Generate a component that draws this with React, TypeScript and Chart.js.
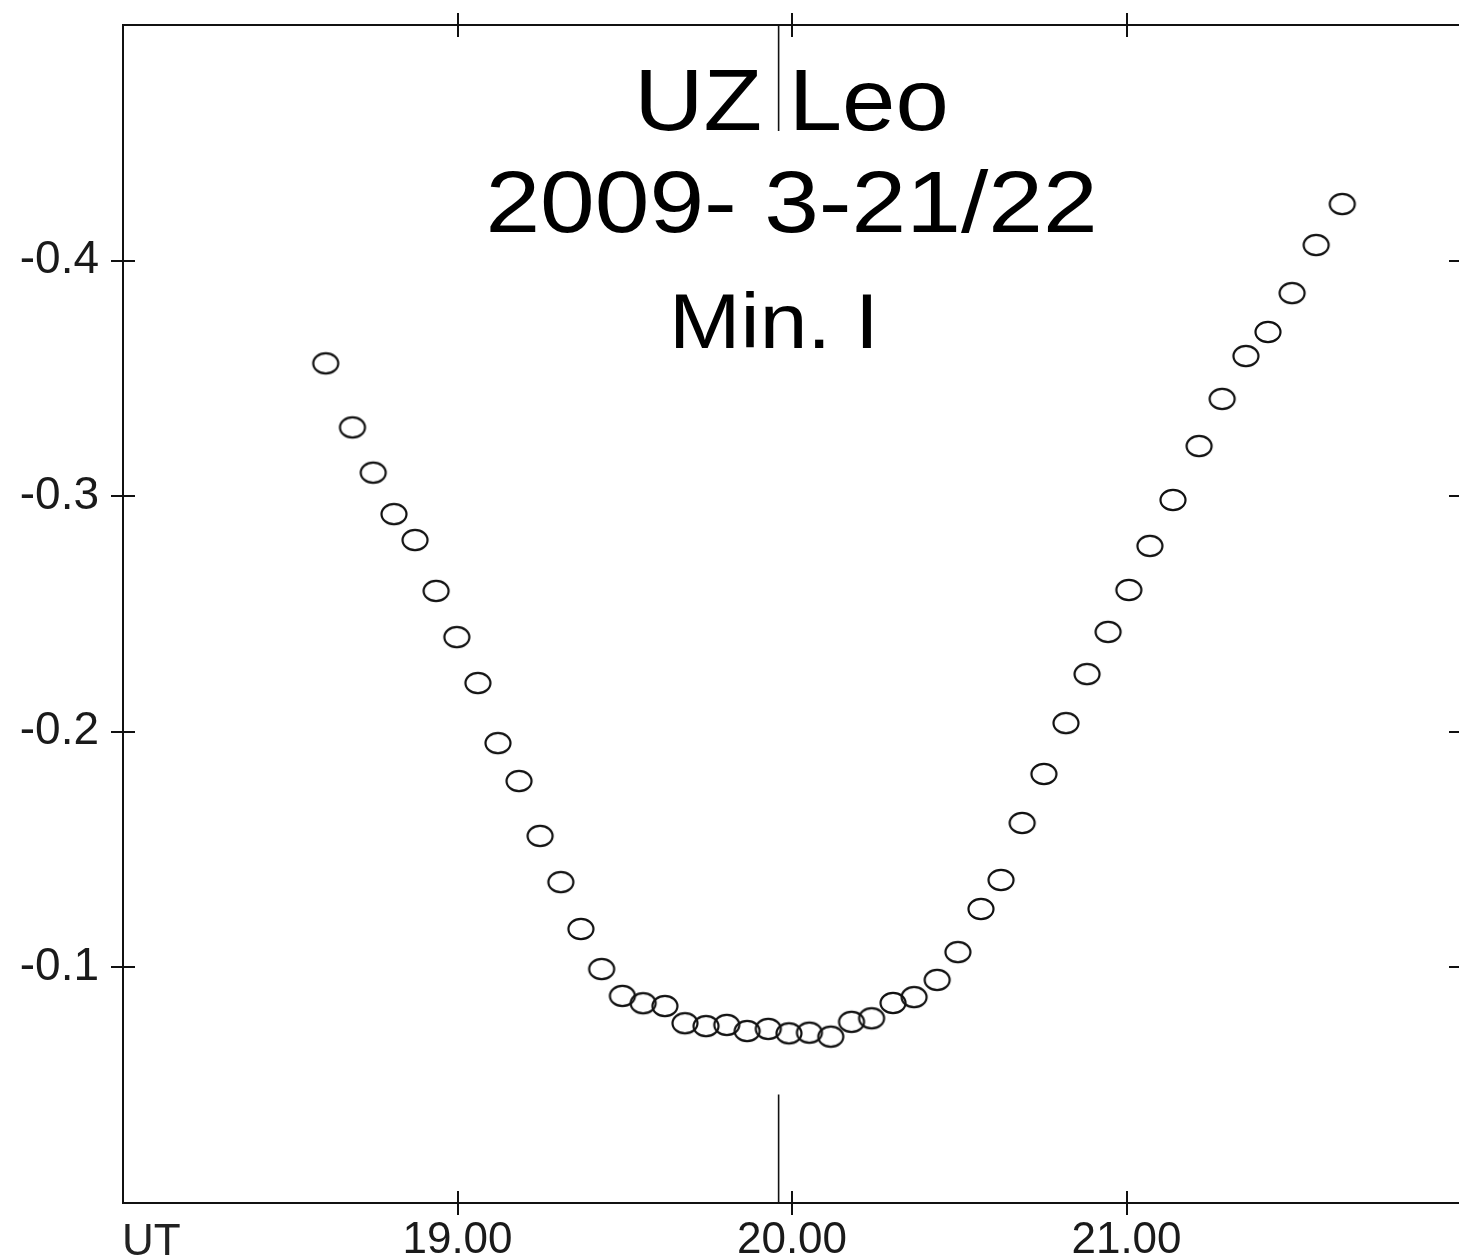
import React, { useEffect, useRef } from "react";
import { Chart, registerables } from "chart.js";

Chart.register(...registerables);

// ---- data (UT hours, magnitude difference) ----
const UT_HOURS: number[] = [
  18.606, 18.686, 18.748, 18.810, 18.873, 18.936, 18.998, 19.061, 19.121, 19.184,
  19.247, 19.309, 19.369, 19.431, 19.493, 19.555, 19.620, 19.680, 19.743, 19.805,
  19.866, 19.929, 19.991, 20.052, 20.116, 20.178, 20.238, 20.302, 20.365, 20.434,
  20.496, 20.565, 20.625, 20.688, 20.753, 20.819, 20.882, 20.945, 21.007, 21.070,
  21.139, 21.217, 21.286, 21.357, 21.423, 21.495, 21.567, 21.645,
];
const DELTA_MAG: number[] = [
  -0.3564, -0.3292, -0.3100, -0.2924, -0.2814, -0.2598, -0.2402, -0.2207, -0.1952, -0.1791,
  -0.1558, -0.1362, -0.1163, -0.0993, -0.0879, -0.0848, -0.0836, -0.0763, -0.0751, -0.0756,
  -0.0730, -0.0739, -0.0720, -0.0723, -0.0706, -0.0769, -0.0784, -0.0849, -0.0874, -0.0947,
  -0.1065, -0.1248, -0.1371, -0.1613, -0.1821, -0.2037, -0.2245, -0.2424, -0.2602, -0.2789,
  -0.2984, -0.3213, -0.3413, -0.3595, -0.3697, -0.3862, -0.4066, -0.4240,
];
const X_TICKS: number[] = [19, 20, 21];
const Y_TICKS: number[] = [-0.4, -0.3, -0.2, -0.1];
const X_RANGE: number[] = [18, 22];
const Y_RANGE: number[] = [-0.5, 0];
const MIN_TIME = 19.96;
const MIN_MARK_TOP: number[] = [-0.5, -0.455];
const MIN_MARK_BOTTOM: number[] = [-0.046, 0];
const TITLE_LINES: string[] = ["UZ Leo", "2009- 3-21/22", "Min. I"];
const X_AXIS_LABEL = "UT";

const FONT_FAMILY = "'Liberation Sans', Arial, Helvetica, sans-serif";
const INK = "#111";

// style for title lines: [centerX, baselineY, fontSize, scaleX]
const TITLE_STYLE: number[][] = [
  [791.5, 130, 88, 1.09],
  [791.5, 232, 87, 1.13],
  [774, 348, 78, 1.1],
];

function makeEllipse(): HTMLCanvasElement {
  const c = document.createElement("canvas");
  c.width = 30;
  c.height = 26;
  const g = c.getContext("2d")!;
  g.strokeStyle = INK;
  g.lineWidth = 2.2;
  g.beginPath();
  g.ellipse(15, 13, 12.5, 10.2, 0, 0, Math.PI * 2);
  g.stroke();
  return c;
}

const framePlugin = {
  id: "framePlugin",
  afterDatasetsDraw(chart: any) {
    const ctx: CanvasRenderingContext2D = chart.ctx;
    const { left, right, top, bottom } = chart.chartArea;
    const xs = chart.scales.x;
    const ys = chart.scales.y;
    const T = 12;
    ctx.save();
    ctx.strokeStyle = INK;
    ctx.lineWidth = 2;
    // frame
    ctx.strokeRect(left, top, right - left, bottom - top);
    // ticks crossing the frame
    ctx.beginPath();
    X_TICKS.forEach((v) => {
      const px = Math.round(xs.getPixelForValue(v));
      ctx.moveTo(px, top - T);
      ctx.lineTo(px, top + T);
      ctx.moveTo(px, bottom - T);
      ctx.lineTo(px, bottom + T);
    });
    Y_TICKS.forEach((v) => {
      const py = Math.round(ys.getPixelForValue(v));
      ctx.moveTo(left - T, py);
      ctx.lineTo(left + T, py);
      ctx.moveTo(right - T, py);
      ctx.lineTo(right + T, py);
    });
    ctx.stroke();

    // titles
    ctx.fillStyle = "#000";
    ctx.textAlign = "center";
    ctx.textBaseline = "alphabetic";
    TITLE_LINES.forEach((t, i) => {
      const [cx, by, fs, sx] = TITLE_STYLE[i];
      ctx.save();
      ctx.font = `${fs}px ${FONT_FAMILY}`;
      ctx.translate(cx, by);
      ctx.scale(sx, 1);
      ctx.fillText(t, 0, 0);
      ctx.restore();
    });

    // minimum marker
    ctx.lineWidth = 1.6;
    ctx.beginPath();
    const mx = xs.getPixelForValue(MIN_TIME);
    ctx.moveTo(mx, ys.getPixelForValue(MIN_MARK_TOP[0]));
    ctx.lineTo(mx, ys.getPixelForValue(MIN_MARK_TOP[1]));
    ctx.moveTo(mx, ys.getPixelForValue(MIN_MARK_BOTTOM[0]));
    ctx.lineTo(mx, ys.getPixelForValue(MIN_MARK_BOTTOM[1]));
    ctx.stroke();

    // axis label UT
    ctx.font = `44px ${FONT_FAMILY}`;
    ctx.textAlign = "left";
    ctx.textBaseline = "alphabetic";
    ctx.fillStyle = "#222";
    ctx.fillText(X_AXIS_LABEL, left - 1, 1255);
    ctx.restore();
  },
};

export default function App() {
  const ref = useRef<HTMLCanvasElement | null>(null);
  useEffect(() => {
    if (!ref.current) return;
    const ellipse = makeEllipse();
    const chart = new Chart(ref.current, {
      type: "scatter",
      data: {
        datasets: [
          {
            data: UT_HOURS.map((x, i) => ({ x, y: DELTA_MAG[i] })),
            pointStyle: ellipse as any,
            pointRadius: 13,
            pointHoverRadius: 13,
            showLine: false,
          },
        ],
      },
      options: {
        animation: false,
        responsive: false,
        devicePixelRatio: 1,
        events: [],
        layout: { padding: { top: 25, right: 19, left: 0, bottom: 0 } },
        plugins: { legend: { display: false }, tooltip: { enabled: false }, title: { display: false } },
        scales: {
          x: {
            type: "linear",
            min: X_RANGE[0],
            max: X_RANGE[1],
            grid: { display: false, drawTicks: false },
            border: { display: false },
            afterBuildTicks: (s: any) => {
              s.ticks = X_TICKS.map((v) => ({ value: v }));
            },
            afterFit: (s: any) => {
              s.height = 56;
              s.paddingLeft = 0;
              s.paddingRight = 0;
              s.paddingTop = 0;
              s.paddingBottom = 0;
            },
            ticks: {
              padding: 11,
              maxRotation: 0,
              autoSkip: false,
              color: "#1a1a1a",
              font: { family: FONT_FAMILY, size: 44 },
              callback: (v: any) => Number(v).toFixed(2),
            },
          },
          y: {
            type: "linear",
            min: Y_RANGE[0],
            max: Y_RANGE[1],
            reverse: true,
            grid: { display: false, drawTicks: false },
            border: { display: false },
            afterBuildTicks: (s: any) => {
              s.ticks = Y_TICKS.map((v) => ({ value: v }));
            },
            afterFit: (s: any) => {
              s.width = 123;
              s.paddingLeft = 0;
              s.paddingRight = 0;
              s.paddingTop = 0;
              s.paddingBottom = 0;
            },
            ticks: {
              padding: 24,
              autoSkip: false,
              color: "#1a1a1a",
              font: { family: FONT_FAMILY, size: 46 },
              callback: (v: any) => Number(v).toFixed(1),
            },
          },
        },
      },
      plugins: [framePlugin],
    });
    return () => chart.destroy();
  }, []);

  return (
    <div
      style={{
        position: "fixed",
        left: 0,
        top: 0,
        width: 1459,
        height: 1259,
        overflow: "hidden",
        background: "#fff",
      }}
    >
      <canvas ref={ref} width={1480} height={1259} style={{ width: 1480, height: 1259, display: "block" }} />
    </div>
  );
}
